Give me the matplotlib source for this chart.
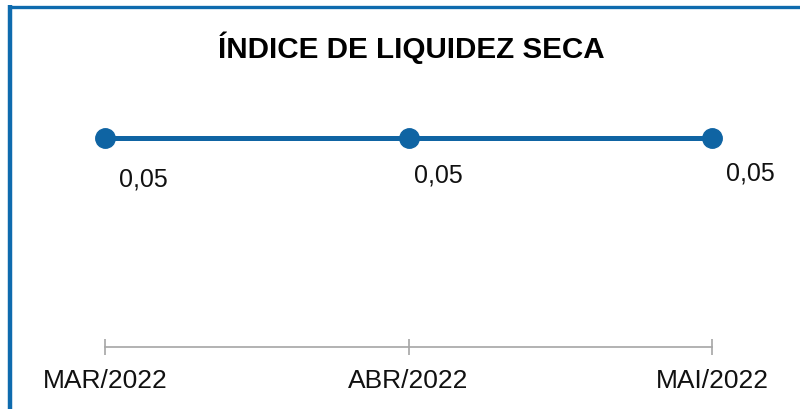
import matplotlib.pyplot as plt
from matplotlib.lines import Line2D

# data
months = ['MAR/2022', 'ABR/2022', 'MAI/2022']
values = [0.05, 0.05, 0.05]
value_labels = ['0,05', '0,05', '0,05']

blue = '#0F64A3'
gray = '#A6A6A6'

fig = plt.figure(figsize=(8, 4.09), dpi=100)
fig.patch.set_facecolor('white')

# left/top frame of the card
fig.add_artist(Line2D([10 / 800, 10 / 800], [0, 1 - 5 / 409], transform=fig.transFigure,
                      color='#0E6BAE', lw=3.2, solid_capstyle='butt'))
fig.add_artist(Line2D([8 / 800, 1], [1 - 6.5 / 409, 1 - 6.5 / 409], transform=fig.transFigure,
                      color='#0E6BAE', lw=2.4, solid_capstyle='butt'))

fig.text(411 / 800, 1 - 48 / 409, 'ÍNDICE DE LIQUIDEZ SECA', ha='center', va='center',
         fontsize=21.3, fontweight='bold', family='Liberation Sans', color='black')

ax = fig.add_axes([105 / 800, 1 - 347 / 409, 607 / 800, 292.6 / 409])
x = list(range(len(months)))
ax.plot(x, values, color=blue, lw=3.6, marker='o', markersize=14, clip_on=False, zorder=3)
ax.set_xlim(0, len(months) - 1)
ax.set_ylim(0, 0.07)

offsets = [(38, -42), (30, -38), (38, -35)]
for xi, v, lab, off in zip(x, values, value_labels, offsets):
    ax.annotate(lab, (xi, v), xytext=(off[0] * 0.72, off[1] * 0.72), textcoords='offset points',
                ha='center', va='center', fontsize=18, family='Liberation Sans', color='#111111')

for side in ['top', 'left', 'right']:
    ax.spines[side].set_visible(False)
ax.spines['bottom'].set_color(gray)
ax.spines['bottom'].set_linewidth(1.2)
ax.set_yticks([])
ax.set_xticks(x)
ax.set_xticklabels(months, fontsize=19, family='Liberation Sans', color='#111111')
ax.tick_params(axis='x', direction='inout', length=12, width=1.2, color=gray, pad=10)
ax.set_facecolor('none')

fig.savefig('out.png', dpi=100)
